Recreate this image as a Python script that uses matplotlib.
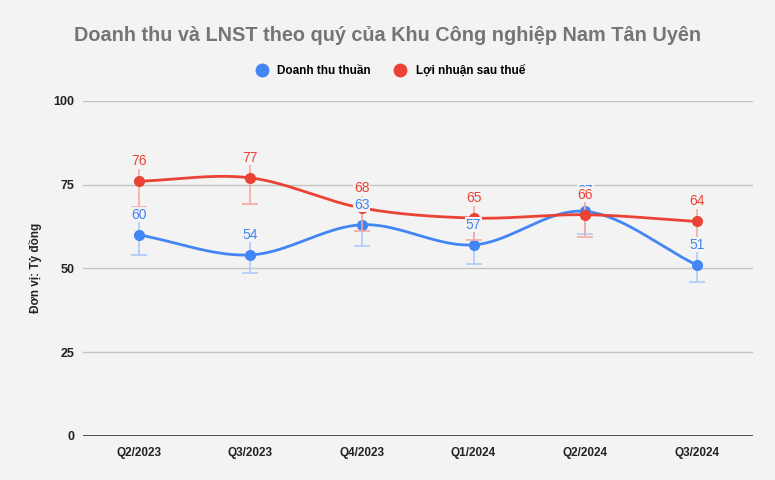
import numpy as np
import matplotlib.pyplot as plt
from matplotlib.lines import Line2D

quarters = ["Q2/2023", "Q3/2023", "Q4/2023", "Q1/2024", "Q2/2024", "Q3/2024"]
doanh_thu = [60, 54, 63, 57, 67, 51]
lnst = [76, 77, 68, 65, 66, 64]

plt.rcParams['font.family'] = ['Liberation Sans', 'DejaVu Sans']


def smooth(x, y, steps=40):
    # Catmull-Rom curve through the points, only for drawing the line
    x = np.asarray(x, float)
    y = np.asarray(y, float)
    px = np.concatenate([[2 * x[0] - x[1]], x, [2 * x[-1] - x[-2]]])
    py = np.concatenate([[2 * y[0] - y[1]], y, [2 * y[-1] - y[-2]]])
    xs, ys = [], []
    t = np.linspace(0, 1, steps)
    for i in range(1, len(px) - 2):
        for p, out in ((px, xs), (py, ys)):
            p0, p1, p2, p3 = p[i - 1], p[i], p[i + 1], p[i + 2]
            out.extend(0.5 * (2 * p1 + (-p0 + p2) * t
                              + (2 * p0 - 5 * p1 + 4 * p2 - p3) * t ** 2
                              + (-p0 + 3 * p1 - 3 * p2 + p3) * t ** 3))
    return xs, ys


bg = "#f3f3f3"
fig = plt.figure(figsize=(7.75, 4.8), dpi=100, facecolor=bg)
ax = fig.add_axes([0.107, 0.092, 0.864, 0.698], facecolor=bg)

x = np.arange(len(quarters))
series = [
    (doanh_thu, "Doanh thu thuần", "#4285f4", "#aecbfa"),
    (lnst, "Lợi nhuận sau thuế", "#ea4335", "#f5aaa3"),
]

for i, (vals, name, col, light) in enumerate(series):
    vals = np.array(vals, float)
    ax.errorbar(x, vals, yerr=vals * 0.1, fmt="none", ecolor=light,
                elinewidth=1.2, capsize=6, capthick=1.2, zorder=2 + i)
    sx, sy = smooth(x, vals)
    ax.plot(sx, sy, color=col, linewidth=2, zorder=3 + i)
    ax.plot(x, vals, "o", color=col, markersize=7, zorder=3 + i)

for i, (vals, name, col, light) in enumerate(series):
    for xi, v in zip(x, vals):
        ax.annotate(str(v), (xi, v), xytext=(0, 9.5), textcoords="offset points",
                    ha="center", va="bottom", color=col, fontsize=10, zorder=10 + i,
                    bbox=dict(boxstyle="square,pad=0.05", fc=bg, ec="none"))

ax.set_xlim(-0.5, len(quarters) - 0.5)
ax.set_ylim(0, 100)
ax.set_yticks([0, 25, 50, 75, 100])
ax.set_xticks(x)
ax.set_xticklabels(quarters, fontweight="bold", fontsize=8.5, color="#222222")
for lbl in ax.get_yticklabels():
    lbl.set_fontweight("bold")
    lbl.set_fontsize(9)
    lbl.set_color("#222222")
ax.tick_params(axis="x", length=0, pad=8)
ax.tick_params(axis="y", length=0, pad=6)
ax.grid(axis="y", color="#c4c4c4", linewidth=1)
ax.set_axisbelow(True)
for s in ax.spines.values():
    s.set_visible(False)
ax.axhline(0, color="#333333", linewidth=1.2, zorder=1)

ax.set_ylabel("Đơn vị: Tỷ đồng", fontweight="bold", fontsize=8.5, color="#222222", labelpad=8)

fig.suptitle("Doanh thu và LNST theo quý của Khu Công nghiệp Nam Tân Uyên",
             x=0.5, y=0.945, fontsize=14.3, fontweight="bold", color="#757575")

handles = [Line2D([], [], marker="o", linestyle="none", color=c, markersize=9)
           for _, _, c, _ in series]
fig.legend(handles, [s[1] for s in series], loc="center", bbox_to_anchor=(0.5, 0.852),
           ncol=2, frameon=False, handletextpad=0.3, columnspacing=1.5,
           prop={"weight": "bold", "size": 8.5})

fig.savefig("out.png", dpi=100, facecolor=bg)
